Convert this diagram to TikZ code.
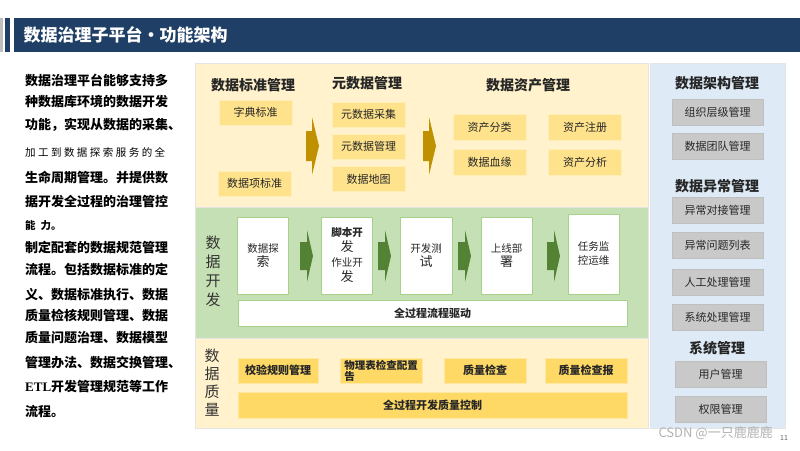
\documentclass[tikz,border=0pt]{standalone}
\usepackage{fontspec}
\setmainfont{Noto Sans CJK SC}
\newfontfamily\latinserif{Liberation Serif}
\usetikzlibrary{calc}

\definecolor{headnavy}{HTML}{1F3F66}
\definecolor{creampanel}{HTML}{FFF2CC}
\definecolor{greenpanel}{HTML}{C5E0B4}
\definecolor{bluepanel}{HTML}{DEEBF7}
\definecolor{boxgold}{HTML}{FFE38C}
\definecolor{qualgold}{HTML}{FFD966}
\definecolor{arrowgold}{HTML}{BF9000}
\definecolor{arrowgreen}{HTML}{548235}
\definecolor{edgegreen}{HTML}{A9D18E}
\definecolor{graybox}{HTML}{C9C9C9}

\begin{document}
\begin{tikzpicture}[x=1pt, y=-1pt,
    panel/.style={draw=black!10, line width=0.8pt},
    title/.style={font=\fontsize{14}{16}\selectfont\bfseries, text=black!85},
    notetext/.style={anchor=west, inner sep=0pt, font=\fontsize{13}{15}\selectfont\bfseries},
    goldbox/.style={fill=boxgold, draw=boxgold!60!white, minimum width=73pt, minimum height=25pt,
        inner sep=1pt, font=\fontsize{11}{13}\selectfont, text=black!85},
    qualbox/.style={fill=qualgold, draw=qualgold!60!white, minimum width=82pt, minimum height=25pt,
        inner sep=1pt, font=\fontsize{11}{11}\selectfont\bfseries, text=black!85},
    devbox/.style={fill=white, draw=edgegreen, minimum width=51pt, minimum height=77pt,
        inner sep=1pt, align=center, font=\fontsize{10.5}{14}\selectfont, text=black!85},
    graybtn/.style={fill=graybox, draw=black!25, minimum width=91pt, minimum height=26pt,
        inner sep=1pt, font=\fontsize{11}{13}\selectfont, text=black!85},
    longbar/.style={minimum width=389pt, minimum height=26pt, inner sep=1pt,
        font=\fontsize{11}{13}\selectfont\bfseries, text=black!85},
    sidelabel/.style={align=center, font=\fontsize{15}{19}\selectfont, text=black!80}]
    \useasboundingbox (0,0) rectangle (800,450);
    \fill[white] (0,0) rectangle (800,450);

    % title bar
    \fill[black!25] (0,18) rectangle (3,52); \fill[headnavy] (5,18) rectangle (10,52);
    \fill[headnavy] (14,18) rectangle (800,52);
    \node[anchor=west, text=white, font=\fontsize{17}{17}\selectfont\bfseries] (head) at (20,35) {数据治理子平台・功能架构};

    % left notes
    \node[notetext] (note1) at (25,80) {数据治理平台能够支持多};
    \node[notetext] (note2) at (25,102) {种数据库环境的数据开发};
    \node[notetext] (note3) at (25,125) {功能，实现从数据的采集、};
    \node[notetext, font=\fontsize{10.5}{12}\selectfont] (note4) at (25,152) {\makebox[140pt][s]{加 工 到 数 据 探 索 服 务 的 全}};
    \node[notetext] (note5) at (25,177) {生命周期管理。并提供数};
    \node[notetext] (note6) at (25,202) {据开发全过程的治理管控};
    \node[notetext, font=\fontsize{10.5}{12}\selectfont\bfseries] (note7) at (25,226) {能\hspace{5pt}力。};
    \node[notetext] (note8) at (25,248) {制定配套的数据规范管理};
    \node[notetext] (note9) at (25,270) {流程。包括数据标准的定};
    \node[notetext] (note10) at (25,295) {义、数据标准执行、数据};
    \node[notetext] (note11) at (25,316) {质量检核规则管理、数据};
    \node[notetext] (note12) at (25,338) {质量问题治理、数据模型};
    \node[notetext] (note13) at (25,363) {管理办法、数据交换管理、};
    \node[notetext] (note14) at (25,387) {{\latinserif\bfseries ETL}开发管理规范等工作};
    \node[notetext] (note15) at (25,412) {流程。};

    % panels
    \filldraw[panel, fill=creampanel] (195,63) rectangle (648,207);
    \filldraw[panel, fill=greenpanel] (195,207) rectangle (648,338);
    \filldraw[panel, fill=creampanel] (195,338) rectangle (648,428);
    \filldraw[panel, fill=bluepanel] (650,63) rectangle (785,428);

    % standards, metadata, assets
    \node[title] (stdtitle) at (253,85) {数据标准管理};
    \node[goldbox] (dict) at (255.5,112.5) {字典标准};
    \node[goldbox] (itemstd) at (254.5,183.5) {数据项标准};
    \node[title] (metatitle) at (367,83) {元数据管理};
    \node[goldbox] (metacoll) at (368.5,114.5) {元数据采集};
    \node[goldbox] (metamgmt) at (368.5,146.5) {元数据管理};
    \node[goldbox] (datamap) at (368.5,179) {数据地图};
    \node[title] (assettitle) at (528,85) {数据资产管理};
    \node[goldbox, minimum height=26pt] (assetcls) at (489.5,127) {资产分类};
    \node[goldbox, minimum height=26pt] (assetreg) at (585,127) {资产注册};
    \node[goldbox, minimum height=26pt] (lineage) at (489.5,162) {数据血缘};
    \node[goldbox, minimum height=26pt] (assetana) at (585,162) {资产分析};
    \foreach \ax in {306,423}
        \fill[arrowgold] (\ax,146) ++(0,-15) -- ++(6,0) -- ++(0,-14) -- ++(7,29) -- ++(-7,29) -- ++(0,-14) -- ++(-6,0) -- cycle;

    % development
    \node[sidelabel] (devlabel) at (213,271) {数\\据\\开\\发};
    \node[devbox] (explore) at (263,255.5) {数据探\\{\fontsize{13}{14}\selectfont 索}};
    \node[devbox, font=\fontsize{10.5}{15}\selectfont] (script) at (347,255.5) {{\bfseries 脚本开}\\{\fontsize{13}{14}\selectfont 发}\\作业开\\{\fontsize{13}{14}\selectfont 发}};
    \node[devbox, minimum width=52pt] (devtest) at (426,255.5) {开发测\\{\fontsize{13}{14}\selectfont 试}};
    \node[devbox] (deploy) at (506.5,255.5) {上线部\\{\fontsize{13}{14}\selectfont 署}};
    \node[devbox, minimum height=80pt] (monitor) at (593.5,254) {任务监\\控运维};
    \node[longbar, fill=white, draw=edgegreen] (flowbar) at (432.5,313) {全过程流程驱动};
    \foreach \ax in {300,378,458,547}
        \fill[arrowgreen] (\ax,256) ++(0,-14) -- ++(7,0) -- ++(0,-12) -- ++(6,26) -- ++(-6,26) -- ++(0,-12) -- ++(-7,0) -- cycle;

    % quality
    \node[sidelabel, font=\fontsize{15}{18}\selectfont] (quallabel) at (212,383) {数\\据\\质\\量};
    \node[qualbox, minimum width=80pt] (rulemgmt) at (278,370.5) {校验规则管理};
    \node[qualbox, align=left, font=\fontsize{10.5}{11}\selectfont\bfseries] (physcheck) at (381,370.5) {物理表检查配置\\告};
    \node[qualbox] (qcheck) at (485,370.5) {质量检查};
    \node[qualbox] (qreport) at (586,370.5) {质量检查报};
    \node[longbar, fill=qualgold, draw=qualgold!60!white] (qualbar) at (432.5,405) {全过程开发质量控制};

    % right column
    \node[title] (archtitle) at (717,83) {数据架构管理};
    \node[graybtn] (orglevel) at (717.5,112) {组织层级管理};
    \node[graybtn] (teammgmt) at (717.5,146.5) {数据团队管理};
    \node[title] (exctitle) at (717,186) {数据异常管理};
    \node[graybtn] (excdock) at (717.5,210) {异常对接管理};
    \node[graybtn] (exclist) at (717.5,245) {异常问题列表};
    \node[graybtn] (manual) at (717.5,282) {人工处理管理};
    \node[graybtn] (sysproc) at (717.5,317) {系统处理管理};
    \node[title] (systitle) at (717,348) {系统管理};
    \node[graybtn] (usermgmt) at (720.5,374.5) {用户管理};
    \node[graybtn] (permmgmt) at (720.5,409) {权限管理};

    \node[anchor=west, text=black!30, font=\fontsize{13}{13}\selectfont] (mark) at (655,433) {CSDN @一只鹿鹿鹿};
    \node[text=black!60, font=\fontsize{7}{7}\selectfont] (pageno) at (784,438) {11};
\end{tikzpicture}
\end{document}
